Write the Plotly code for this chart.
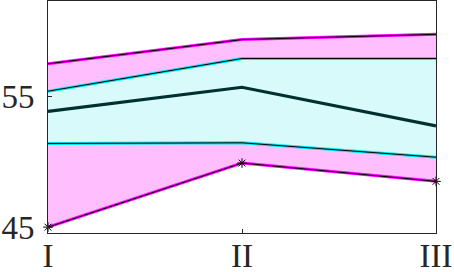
import plotly.graph_objects as go

categories = [1, 2, 3]
tick_labels = ["I", "II", "III"]
outer_low = [45.0, 49.9, 48.5]
outer_high = [57.5, 59.35, 59.75]
inner_low = [51.4, 51.45, 50.35]
inner_high = [55.4, 57.9, 57.9]
mean_vals = [53.85, 55.7, 52.75]

fig = go.Figure()
# outer band (pink)
fig.add_trace(go.Scatter(x=categories, y=outer_low, mode="lines",
                         line=dict(color="#ff00ff", width=3), showlegend=False))
fig.add_trace(go.Scatter(x=categories, y=outer_high, mode="lines", fill="tonexty",
                         fillcolor="#ffbfff", line=dict(color="#ff00ff", width=3), showlegend=False))
# inner band (cyan)
fig.add_trace(go.Scatter(x=categories, y=inner_low, mode="lines",
                         line=dict(color="#00e5f0", width=3), showlegend=False))
fig.add_trace(go.Scatter(x=categories, y=inner_high, mode="lines", fill="tonexty",
                         fillcolor="#d8fafa", line=dict(color="#00e5f0", width=3), showlegend=False))
# black thin outlines
for ys in [outer_high, inner_high, inner_low]:
    fig.add_trace(go.Scatter(x=categories, y=ys, mode="lines",
                             line=dict(color="black", width=1), showlegend=False))
fig.add_trace(go.Scatter(x=categories, y=outer_low, mode="lines+markers",
                         line=dict(color="black", width=1),
                         marker=dict(symbol="asterisk-open", size=8,
                                     line=dict(color="black", width=1)),
                         cliponaxis=False, showlegend=False))
# mean
fig.add_trace(go.Scatter(x=categories, y=mean_vals, mode="lines",
                         line=dict(color="#003030", width=3.2), showlegend=False))

fig.update_layout(
    width=454, height=272,
    margin=dict(l=48, r=18, t=1, b=39),
    plot_bgcolor="white", paper_bgcolor="white",
    font=dict(family="Liberation Serif", size=33, color="#262626"),
)
fig.update_xaxes(range=[1, 3], tickvals=categories, ticktext=tick_labels, automargin=False,
                 showgrid=False, zeroline=False, showline=True, linecolor="#262626",
                 linewidth=1, mirror=True, ticks="inside", ticklen=4, tickcolor="#262626",
                 ticklabelstandoff=-7)
fig.update_yaxes(range=[44.55, 62.3], tickvals=[45, 55], ticktext=["45", "55"], automargin=False,
                 showgrid=False, zeroline=False, showline=True, linecolor="#262626",
                 linewidth=1, mirror=True, ticks="inside", ticklen=4, tickcolor="#262626",
                 ticklabelstandoff=6)

fig.write_html("out.html", config={"displayModeBar": False},
               post_script="document.body.style.margin='0';document.body.style.overflow='hidden';")
